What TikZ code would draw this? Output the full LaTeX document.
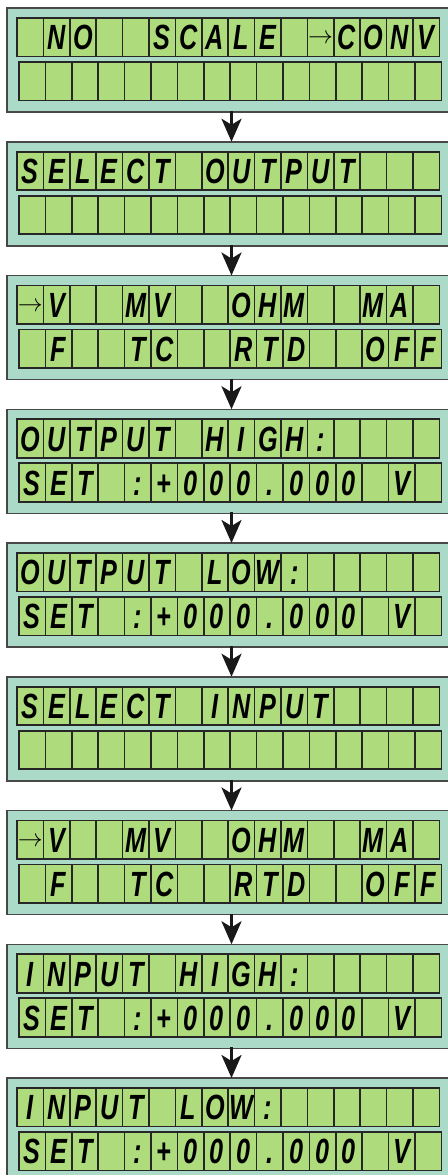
\documentclass[tikz,border=0pt]{standalone}
\usepackage{fontspec}
\usepackage{xcolor}
\usetikzlibrary{arrows.meta, positioning}

\newfontfamily\lcdfont[FakeStretch=0.72]{Liberation Sans}
\definecolor{lcdback}{RGB}{171,219,200}
\definecolor{lcdgreen}{RGB}{174,219,124}
\definecolor{lcdframe}{RGB}{72,72,72}

% arrow sign shown inside a cell
\newcommand{\selarrow}{\raisebox{6pt}{\fontsize{26}{26}\selectfont\mdseries$\rightarrow$}}

% one row of 16 cells: panel, row name, x offset, y offset, characters
\newcommand{\lcdrow}[5]{%
  \foreach \ch [count=\i from 0] in {#5}
    \node[cell] (#1#2\i) at ([xshift={(#3+26.4*\i)*1pt}, yshift=-#4pt]#1.north west) {\ch};
}
% both rows of one panel
\newcommand{\lcdpanel}[3]{%
  \lcdrow{#1}{a}{10}{10}{#2}
  \lcdrow{#1}{b}{12}{54}{#3}
}

\begin{document}
\begin{tikzpicture}[
  node distance=29.75pt,
  panel/.style={draw=lcdframe, line width=1.5pt, fill=lcdback,
                minimum width=443pt, minimum height=104pt,
                inner sep=0pt, outer sep=0pt},
  cell/.style={draw=black!85, line width=1.6pt, fill=lcdgreen,
               anchor=north west, minimum width=26.4pt, minimum height=38.5pt,
               inner sep=0pt, outer sep=0pt, text height=25pt, text depth=0pt,
               font=\lcdfont\bfseries\itshape\fontsize{35}{35}\selectfont},
  flow/.style={-{Stealth[length=23pt, width=20pt, inset=6pt]}, line width=3pt,
               black!90, shorten <=-1pt},
]
\useasboundingbox (0,0) rectangle (447pt,-1175pt);

\node[panel, anchor=north west] (p1) at (7pt,-8pt) {};
\node[panel, below=of p1] (p2) {};
\node[panel, below=of p2] (p3) {};
\node[panel, below=of p3] (p4) {};
\node[panel, below=of p4] (p5) {};
\node[panel, below=of p5] (p6) {};
\node[panel, below=of p6] (p7) {};
\node[panel, below=of p7] (p8) {};
\node[panel, below=of p8] (p9) {};

\lcdpanel{p1}{{},N,O,{},{},S,C,A,L,E,{},\selarrow,C,O,N,V}
             {{},{},{},{},{},{},{},{},{},{},{},{},{},{},{},{}}
\lcdpanel{p2}{S,E,L,E,C,T,{},O,U,T,P,U,T,{},{},{}}
             {{},{},{},{},{},{},{},{},{},{},{},{},{},{},{},{}}
\lcdpanel{p3}{\selarrow,V,{},{},M,V,{},{},O,H,M,{},{},M,A,{}}
             {{},F,{},{},T,C,{},{},R,T,D,{},{},O,F,F}
\lcdpanel{p4}{O,U,T,P,U,T,{},H,I,G,H,:,{},{},{},{}}
             {S,E,T,{},:,+,0,0,0,.,0,0,0,{},V,{}}
\lcdpanel{p5}{O,U,T,P,U,T,{},L,O,W,:,{},{},{},{},{}}
             {S,E,T,{},:,+,0,0,0,.,0,0,0,{},V,{}}
\lcdpanel{p6}{S,E,L,E,C,T,{},I,N,P,U,T,{},{},{},{}}
             {{},{},{},{},{},{},{},{},{},{},{},{},{},{},{},{}}
\lcdpanel{p7}{\selarrow,V,{},{},M,V,{},{},O,H,M,{},{},M,A,{}}
             {{},F,{},{},T,C,{},{},R,T,D,{},{},O,F,F}
\lcdpanel{p8}{I,N,P,U,T,{},H,I,G,H,:,{},{},{},{},{}}
             {S,E,T,{},:,+,0,0,0,.,0,0,0,{},V,{}}
\lcdpanel{p9}{I,N,P,U,T,{},L,O,W,:,{},{},{},{},{},{}}
             {S,E,T,{},:,+,0,0,0,.,0,0,0,{},V,{}}

\foreach \a/\b in {p1/p2, p2/p3, p3/p4, p4/p5, p5/p6, p6/p7, p7/p8, p8/p9}
  \draw[flow] ([xshift=3pt]\a.south) -- ([xshift=3pt]\b.north);
\end{tikzpicture}
\end{document}
